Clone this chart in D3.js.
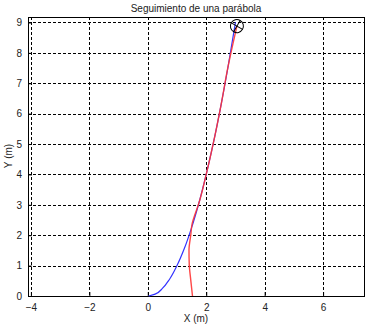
<!DOCTYPE html>
<html>
<head>
<meta charset="utf-8">
<script src="https://cdn.jsdelivr.net/npm/d3@7"></script>
<style>
  body { margin: 0; background: #fff; }
  text { font-family: "Liberation Sans", Arial, sans-serif; fill: #222; }
</style>
</head>
<body>
<svg id="chart" width="370" height="327"></svg>
<script>
const xTicks = [-4, -2, 0, 2, 4, 6];
const yTicks = [0, 1, 2, 3, 4, 5, 6, 7, 8, 9];

// reference parabola (blue)
const refX = [0.03, 0.25, 0.5, 0.75, 1.0, 1.25, 1.5, 1.75, 2.0, 2.25, 2.5, 2.75, 3.0];
const refY = [0.0, 0.06, 0.25, 0.56, 1.0, 1.56, 2.25, 3.06, 4.0, 5.06, 6.25, 7.56, 9.0];

// followed path (red)
const pathX = [1.53, 1.47, 1.42, 1.41, 1.47, 1.52, 1.62, 1.73, 2.0, 2.25, 2.5, 2.75, 3.05];
const pathY = [0.0, 0.53, 1.02, 1.51, 2.0, 2.39, 2.7, 3.0, 4.0, 5.06, 6.25, 7.56, 8.88];

// vehicle position
const vehicle = { x: 3.05, y: 8.88, angle: 30 };

const svg = d3.select("#chart");
const mLeft = 28, mRight = 364, mTop = 17, mBottom = 296;
const x = d3.scaleLinear().domain([-4.1, 7.4]).range([mLeft, mRight]);
const y = d3.scaleLinear().domain([0, 9.18]).range([mBottom, mTop]);

svg.append("rect").attr("width", 370).attr("height", 327).attr("fill", "#fff");

// grid
const grid = svg.append("g").attr("stroke", "#000").attr("stroke-width", 1).attr("stroke-dasharray", "3,2").attr("shape-rendering", "crispEdges");
grid.selectAll(".gx").data(xTicks).join("line")
  .attr("x1", d => Math.round(x(d)) + 0.5).attr("x2", d => Math.round(x(d)) + 0.5)
  .attr("y1", mTop).attr("y2", mBottom);
grid.selectAll(".gy").data(yTicks.filter(d => d > 0)).join("line")
  .attr("y1", d => Math.round(y(d)) + 0.5).attr("y2", d => Math.round(y(d)) + 0.5)
  .attr("x1", mLeft).attr("x2", mRight);

// axes
const xAxis = svg.append("g").attr("transform", `translate(0,${mBottom})`)
  .call(d3.axisBottom(x).tickValues(xTicks).tickSize(-4).tickPadding(8).tickFormat(d3.format("d")));
const yAxis = svg.append("g").attr("transform", `translate(${mLeft},0)`)
  .call(d3.axisLeft(y).tickValues(yTicks).tickSize(-4).tickPadding(6).tickFormat(d3.format("d")));
[xAxis, yAxis].forEach(a => {
  a.select(".domain").remove();
  a.selectAll("line").attr("stroke", "#000");
  a.selectAll("text").attr("font-size", 10).attr("fill", "#222")
    .style("font-family", "'Liberation Sans', Arial, sans-serif");
});

// box
svg.append("rect").attr("x", mLeft + 0.5).attr("y", mTop + 0.5)
  .attr("width", mRight - mLeft).attr("height", mBottom - mTop)
  .attr("fill", "none").attr("stroke", "#000").attr("stroke-width", 1);

const line = d3.line().x(d => x(d[0])).y(d => y(d[1])).curve(d3.curveMonotoneY);

svg.append("path").datum(d3.zip(refX, refY)).attr("d", line)
  .attr("fill", "none").attr("stroke", "#3333ff").attr("stroke-width", 1.2);
svg.append("path").datum(d3.zip(pathX, pathY)).attr("d", line)
  .attr("fill", "none").attr("stroke", "#ff3333").attr("stroke-width", 1.4).attr("stroke-opacity", 0.9);

// vehicle marker
const vx = x(vehicle.x), vy = y(vehicle.y), r = 6.5;
const veh = svg.append("g").attr("transform", `translate(${vx},${vy}) rotate(${vehicle.angle})`);
veh.append("circle").attr("r", r).attr("fill", "none").attr("stroke", "#000").attr("stroke-width", 1);
veh.append("line").attr("x1", -r).attr("x2", r).attr("stroke", "#000");
veh.append("line").attr("y1", -r).attr("y2", r).attr("stroke", "#000");

// labels
svg.append("text").attr("x", 196).attr("y", 12).attr("text-anchor", "middle")
  .attr("font-size", 10).text("Seguimiento de una parábola");
svg.append("text").attr("x", 196).attr("y", 322).attr("text-anchor", "middle")
  .attr("font-size", 10).text("X (m)");
svg.append("text").attr("transform", "translate(12,156) rotate(-90)").attr("text-anchor", "middle")
  .attr("font-size", 10).text("Y (m)");
</script>
</body>
</html>
